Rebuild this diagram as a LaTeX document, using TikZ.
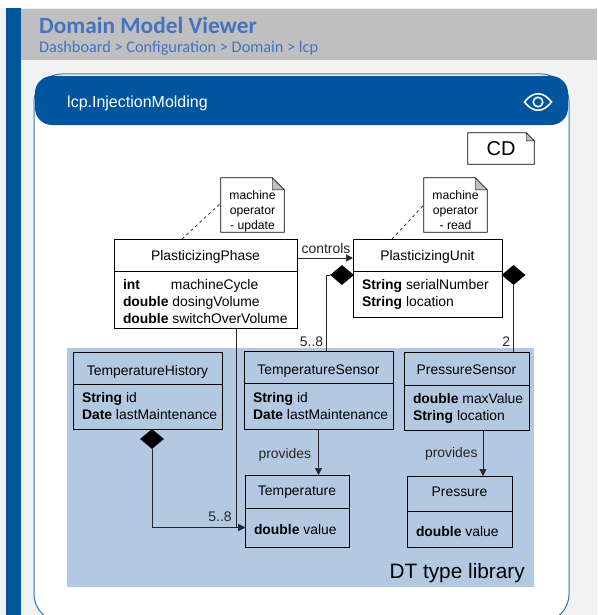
\documentclass[tikz,border=0pt]{standalone}
\usepackage{fontspec}
\setmainfont{Liberation Sans}
\newfontfamily\headfont{Carlito}
\usepackage{tikz}
\usetikzlibrary{arrows.meta,positioning,shapes.geometric}
\definecolor{barblue}{HTML}{00559F}
\definecolor{headblue}{HTML}{4472C4}
\definecolor{panelline}{HTML}{2F75B8}
\definecolor{libblue}{HTML}{B3C9E1}
\tikzset{
>={Triangle[length=7pt,width=7pt]}, % small filled heads
classhead/.style={draw, thick, outer sep=0pt, inner sep=0pt, text height=10pt, text depth=0pt, font=\fontsize{13.9}{17}\selectfont},
classbody/.style={draw, thick, outer sep=0pt, inner xsep=4pt, inner ysep=0pt, align=flush left, execute at begin node={\leftskip=5pt\relax}, font=\fontsize{13.9}{17}\selectfont},
notebox/.style={inner sep=0pt, align=center, text height=48pt, text depth=0pt, font=\fontsize{12.2}{15}\selectfont},
holder/.style={diamond, fill=black, inner sep=0pt, minimum width=24pt, minimum height=20pt},
conn/.style={line width=0.7pt, black!85},
lbl/.style={font=\fontsize{13.9}{17}\selectfont, inner sep=3pt},
}
\begin{document}
\begin{tikzpicture}[x=1pt,y=-1pt]
	\useasboundingbox (0,0) rectangle (597,615);
	\clip (0,0) rectangle (597,615);

	% page
	\fill[black!5] (0,8) rectangle (597,615);
	\fill[black!25] (21,9) rectangle (597,60);
	\fill[barblue] (6,8) rectangle (21,615);
	\node[anchor=west, inner sep=0pt, text=headblue, font=\headfont\bfseries\fontsize{23.3}{26}\selectfont] (title) at (39,25) {Domain Model Viewer};
	\node[anchor=west, inner sep=0pt, text=headblue, font=\headfont\fontsize{16.3}{19}\selectfont] (crumbs) at (39,48) {Dashboard > Configuration > Domain > lcp};

	% panel
	\draw[panelline, line width=1pt, fill=white, rounded corners=28pt] (34,74) rectangle (569,622);
	\fill[barblue, rounded corners=17pt] (35,76) rectangle (568,125);
	\node[anchor=west, inner sep=0pt, text=white, font=\fontsize{16}{19}\selectfont] (modelname) at (67,103) {lcp.InjectionMolding};
	\coordinate (eye) at (538,102);
	\draw[white, line width=1.6pt] ([xshift=-13.5pt]eye) .. controls ([xshift=-5pt,yshift=11pt]eye) and ([xshift=5pt,yshift=11pt]eye) .. ([xshift=13.5pt]eye) .. controls ([xshift=5pt,yshift=-11pt]eye) and ([xshift=-5pt,yshift=-11pt]eye) .. cycle;
	\draw[white, line width=1.6pt] (eye) circle[radius=4.8pt];

	% library background
	\fill[libblue] (67,348) rectangle (534,587);
	\node[anchor=east, inner sep=0pt, font=\fontsize{20.8}{24}\selectfont] (libname) at (525,573) {DT type library};

	% notes
	\node[notebox, text height=14pt, text depth=0pt, minimum width=66pt, minimum height=31pt, font=\fontsize{20}{24}\selectfont] (cd) at (501,148.5) {CD};
	\node[notebox, minimum width=63pt, minimum height=54pt] (noteA) at (252.5,205) {machine\\operator\\- update};
	\node[notebox, minimum width=63pt, minimum height=54pt] (noteB) at (455.5,205) {machine\\operator\\- read};
	\foreach \n/\f in {cd/8, noteA/12, noteB/12} {
		\draw[line width=0.8pt] (\n.north west) -- ([xshift=-\f pt]\n.north east) -- ([yshift=-\f pt]\n.north east) -- (\n.south east) -- (\n.south west) -- cycle;
		\draw[fill=black!25] ([xshift=-\f pt]\n.north east) -- ([yshift=-\f pt]\n.north east) -- ([xshift=-\f pt,yshift=-\f pt]\n.north east) -- cycle;
	}

	% classes
	\node[classhead, minimum width=183pt, minimum height=32pt] (phase) at (205.5,255) {PlasticizingPhase};
	\node[classbody, text width=175pt, text height=10pt, text depth=31pt, minimum height=57pt, below=0pt of phase] (phaseattr) {\textbf{int}\hspace{31pt}machineCycle\\\textbf{double} dosingVolume\\\textbf{double} switchOverVolume};

	\node[classhead, minimum width=149pt, minimum height=32pt] (unit) at (427.5,255) {PlasticizingUnit};
	\node[classbody, text width=141pt, minimum height=46pt, below=0pt of unit] (unitattr) {\textbf{String} serialNumber\\\textbf{String} location};

	\node[classhead, text height=15pt, minimum width=149pt, minimum height=32pt] (hist) at (147.5,368) {TemperatureHistory};
	\node[classbody, text width=141pt, minimum height=45pt, below=0pt of hist] (histattr) {\textbf{String} id\\\textbf{Date} lastMaintenance};

	\node[classhead, text height=14pt, minimum width=149pt, minimum height=32pt] (tsens) at (318.5,367) {TemperatureSensor};
	\node[classbody, text width=141pt, minimum height=46pt, below=0pt of tsens] (tsensattr) {\textbf{String} id\\\textbf{Date} lastMaintenance};

	\node[classhead, text height=11pt, minimum width=125pt, minimum height=33pt] (psens) at (466.5,368.5) {PressureSensor};
	\node[classbody, text width=117pt, text height=10pt, text depth=19pt, minimum height=45pt, below=0pt of psens] (psensattr) {\textbf{double} maxValue\\\textbf{String} location};

	\node[classhead, text height=7pt, minimum width=104pt, minimum height=33pt] (temp) at (297,491.5) {Temperature};
	\node[classbody, text width=96pt, text height=14pt, minimum height=39pt, below=0pt of temp] (tempattr) {\textbf{double} value};

	\node[classhead, text height=5pt, minimum width=105pt, minimum height=35pt] (press) at (459.5,493.5) {Pressure};
	\node[classbody, text width=97pt, text height=16pt, minimum height=36pt, below=0pt of press] (pressattr) {\textbf{double} value};

	% composition diamonds
	\node[holder] (dunitL) at (342,275) {};
	\node[holder] (dunitR) at (513.5,275) {};
	\node[holder] (dhist) at (152,439) {};

	% connectors
	\draw[conn, dashed] (182,239) -- (noteA.west |- 0,203);
	\draw[conn, dashed] (392,239) -- (noteB.west |- 0,205);
	\draw[conn, ->] ([yshift=-3pt]phase.east) -- ([yshift=-3pt]unit.west) node[midway, above, lbl, inner sep=4pt, xshift=1pt] {controls};
	\draw[conn] (dunitL.west) -| ([xshift=8pt]tsens.north) node[pos=0.94, left, lbl] {5..8};
	\draw[conn, line width=1pt] (dunitR.south) -- (dunitR.south |- psens.north) node[pos=0.84, left, lbl] {2};
	\draw[conn, ->] ([xshift=30.5pt]phaseattr.south) |- (tempattr.west);
	\draw[conn, ->] (dhist.south) |- (tempattr.west) node[pos=0.866, above, lbl, inner sep=6pt] {5..8};
	\draw[conn, ->] (tsensattr.south) -- (tsensattr.south |- temp.north) node[midway, left, lbl, inner sep=7pt, yshift=-3pt] {provides};
	\draw[conn, ->] ([xshift=16.5pt]psensattr.south) -- ([xshift=16.5pt]psensattr.south |- press.north) node[midway, left, lbl, inner sep=5pt, yshift=-1pt] {provides};
\end{tikzpicture}
\end{document}
